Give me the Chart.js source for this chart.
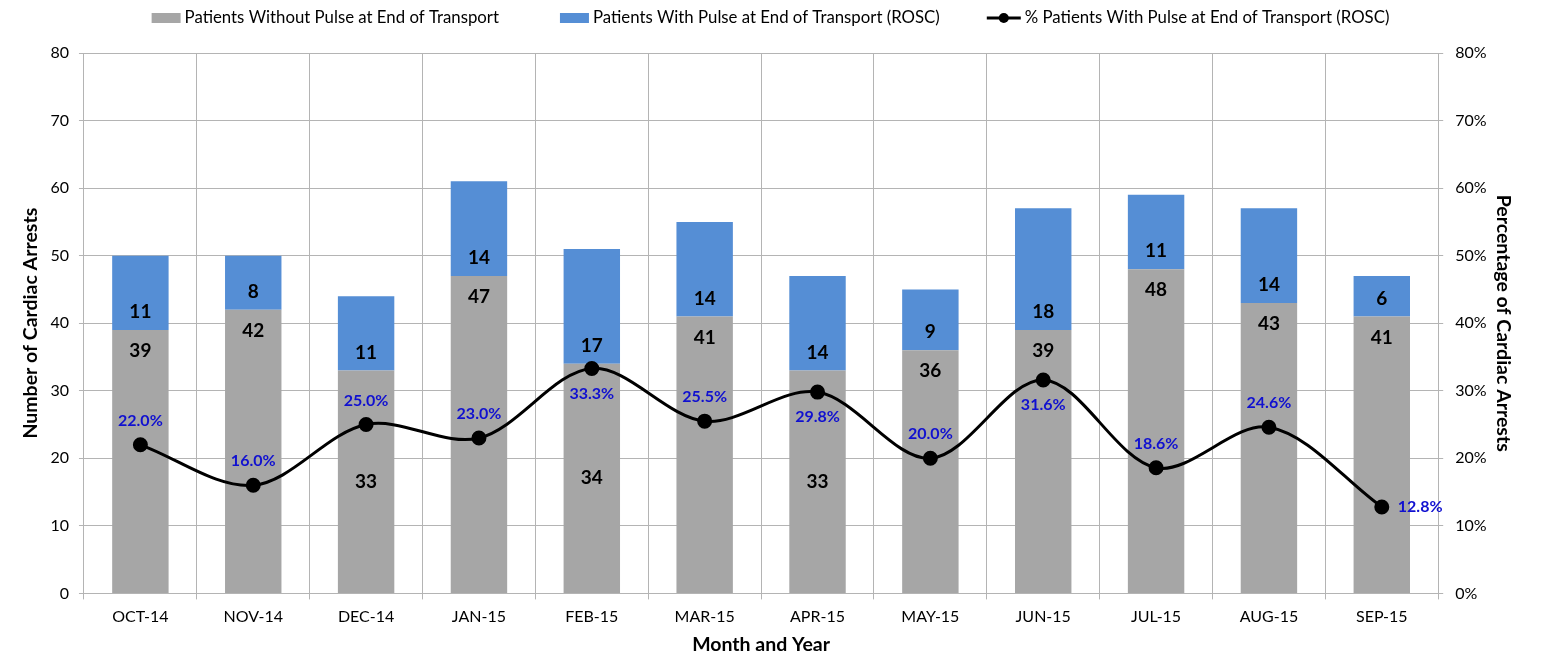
<!DOCTYPE html>
<html>
<head>
<meta charset="utf-8">
<script src="https://cdn.jsdelivr.net/npm/chart.js@4.4.1/dist/chart.umd.min.js"></script>
<style>
html, body { margin: 0; padding: 0; background: #fff; }
#wrap { width: 1541px; height: 660px; }
</style>
</head>
<body>
<div id="wrap"><canvas id="roscChart"></canvas></div>
<script>
var months = ["OCT-14", "NOV-14", "DEC-14", "JAN-15", "FEB-15", "MAR-15", "APR-15", "MAY-15", "JUN-15", "JUL-15", "AUG-15", "SEP-15"]
//data collected
var noPulse = [39, 42, 33, 47, 34, 41, 33, 36, 39, 48, 43, 41]
var withPulse = [11, 8, 11, 14, 17, 14, 14, 9, 18, 11, 14, 6]
var roscPct = [22.0, 16.0, 25.0, 23.0, 33.3, 25.5, 29.8, 20.0, 31.6, 18.6, 24.6, 12.8]

// where the labels sit (the original has a few moved by hand)
var grayCenter = [false, false, true, false, true, false, true, false, false, false, false, false]
var pctSide = ["up", "up", "up", "up", "down", "up", "down", "up", "down", "up", "up", "right"]

var FONT = "Lato"
var gridColor = "#b4b4b4"
var grayCol = "#a6a6a6"
var blueCol = "#558ed5"

var valueLabels = {
    id: "valueLabels",
    afterDatasetsDraw: function(chart) {
        var ctx = chart.ctx
        var gray = chart.getDatasetMeta(0)
        var blue = chart.getDatasetMeta(1)
        var line = chart.getDatasetMeta(2)
        ctx.save()
        ctx.textAlign = "center"
        ctx.textBaseline = "middle"
        ctx.fillStyle = "#000"
        ctx.font = "bold 19px " + FONT
        for (var i = 0; i < months.length; i++) {
            var g = gray.data[i]
            var gy = grayCenter[i] ? (g.y + g.base) / 2 : g.y + 21
            ctx.fillText(String(noPulse[i]), g.x, gy)
            var b = blue.data[i]
            ctx.fillText(String(withPulse[i]), b.x, b.base - 18)
        }
        ctx.fillStyle = "#1010d0"
        ctx.font = "bold 16px " + FONT
        for (var j = 0; j < months.length; j++) {
            var p = line.data[j]
            var txt = roscPct[j].toFixed(1) + "%"
            if (pctSide[j] == "right") {
                ctx.textAlign = "left"
                ctx.fillText(txt, p.x + 16, p.y)
                ctx.textAlign = "center"
            } else if (pctSide[j] == "down") {
                ctx.fillText(txt, p.x, p.y + 25)
            } else {
                ctx.fillText(txt, p.x, p.y - 24)
            }
        }
        ctx.restore()
    }
}

// legend drawn by hand so the spacing looks like the excel one
var topLegend = {
    id: "topLegend",
    afterDraw: function(chart) {
        var ctx = chart.ctx
        var ds = chart.data.datasets
        var symW = [29, 29, 34]
        var gaps = [61, 47]
        ctx.save()
        ctx.font = "16.8px " + FONT
        var widths = []
        var total = 0
        for (var i = 0; i < ds.length; i++) {
            widths[i] = symW[i] + 4 + ctx.measureText(ds[i].label).width
            total += widths[i]
        }
        total += gaps[0] + gaps[1]
        var x = (chart.width - total) / 2
        var y = 18
        for (var k = 0; k < ds.length; k++) {
            if (ds[k].type == "line") {
                ctx.strokeStyle = "#000"
                ctx.lineWidth = 3
                ctx.beginPath()
                ctx.moveTo(x, y)
                ctx.lineTo(x + symW[k], y)
                ctx.stroke()
                ctx.fillStyle = "#000"
                ctx.beginPath()
                ctx.arc(x + symW[k] / 2, y, 5, 0, Math.PI * 2)
                ctx.fill()
            } else {
                ctx.fillStyle = ds[k].backgroundColor
                ctx.fillRect(x, y - 5, symW[k], 10)
            }
            ctx.fillStyle = "#000"
            ctx.textBaseline = "middle"
            ctx.textAlign = "left"
            ctx.fillText(ds[k].label, x + symW[k] + 4, y)
            x += widths[k] + (gaps[k] || 0)
        }
        ctx.restore()
    }
}

var myChart = document.getElementById("roscChart").getContext("2d")
var chart = new Chart(myChart, {
    type: "bar",
    data: {
        labels: months,
        datasets: [{
            label: "Patients Without Pulse at End of Transport",
            data: noPulse,
            backgroundColor: grayCol,
            order: 1,
            yAxisID: "y"
        }, {
            label: "Patients With Pulse at End of Transport (ROSC)",
            data: withPulse,
            backgroundColor: blueCol,
            order: 2,
            yAxisID: "y"
        }, {
            type: "line",
            label: "% Patients With Pulse at End of Transport (ROSC)",
            data: roscPct,
            borderColor: "#000",
            backgroundColor: "#000",
            borderWidth: 3,
            pointRadius: 6,
            pointHoverRadius: 6,
            pointBackgroundColor: "#000",
            tension: 0.33,
            order: 0,
            yAxisID: "y1"
        }]
    },
    options: {
        responsive: true,
        maintainAspectRatio: false,
        animation: false,
        categoryPercentage: 1,
        barPercentage: 0.5,
        layout: {
            padding: { top: 53, left: 19, right: 26, bottom: 0 }
        },
        plugins: {
            legend: { display: false },
            tooltip: { enabled: false }
        },
        scales: {
            x: {
                stacked: true,
                grid: { color: gridColor, offset: true, tickLength: 6 },
                border: { color: gridColor },
                ticks: { color: "#000", font: { family: FONT, size: 16 }, padding: 8 },
                title: { display: true, text: "Month and Year", color: "#000", font: { family: FONT, size: 19.5, weight: "bold" }, padding: { top: -2, bottom: 4 } }
            },
            y: {
                stacked: true,
                min: 0,
                max: 80,
                ticks: { stepSize: 10, color: "#000", font: { family: FONT, size: 16 }, padding: 10 },
                grid: { color: gridColor, tickLength: 5 },
                border: { color: gridColor },
                title: { display: true, text: "Number of Cardiac Arrests", color: "#000", font: { family: FONT, size: 19.5, weight: "bold" }, padding: { top: 0, bottom: -2 } }
            },
            y1: {
                position: "right",
                min: 0,
                max: 80,
                ticks: {
                    stepSize: 10,
                    color: "#000",
                    font: { family: FONT, size: 16 },
                    padding: 12,
                    callback: function(v) { return v + "%" }
                },
                grid: { drawOnChartArea: false, color: gridColor, tickLength: 5 },
                border: { color: gridColor },
                title: { display: true, text: "Percentage of Cardiac Arrests", color: "#000", font: { family: FONT, size: 19.5, weight: "bold" }, padding: { top: 0, bottom: -7 } }
            }
        }
    },
    plugins: [valueLabels, topLegend]
})
</script>
</body>
</html>
